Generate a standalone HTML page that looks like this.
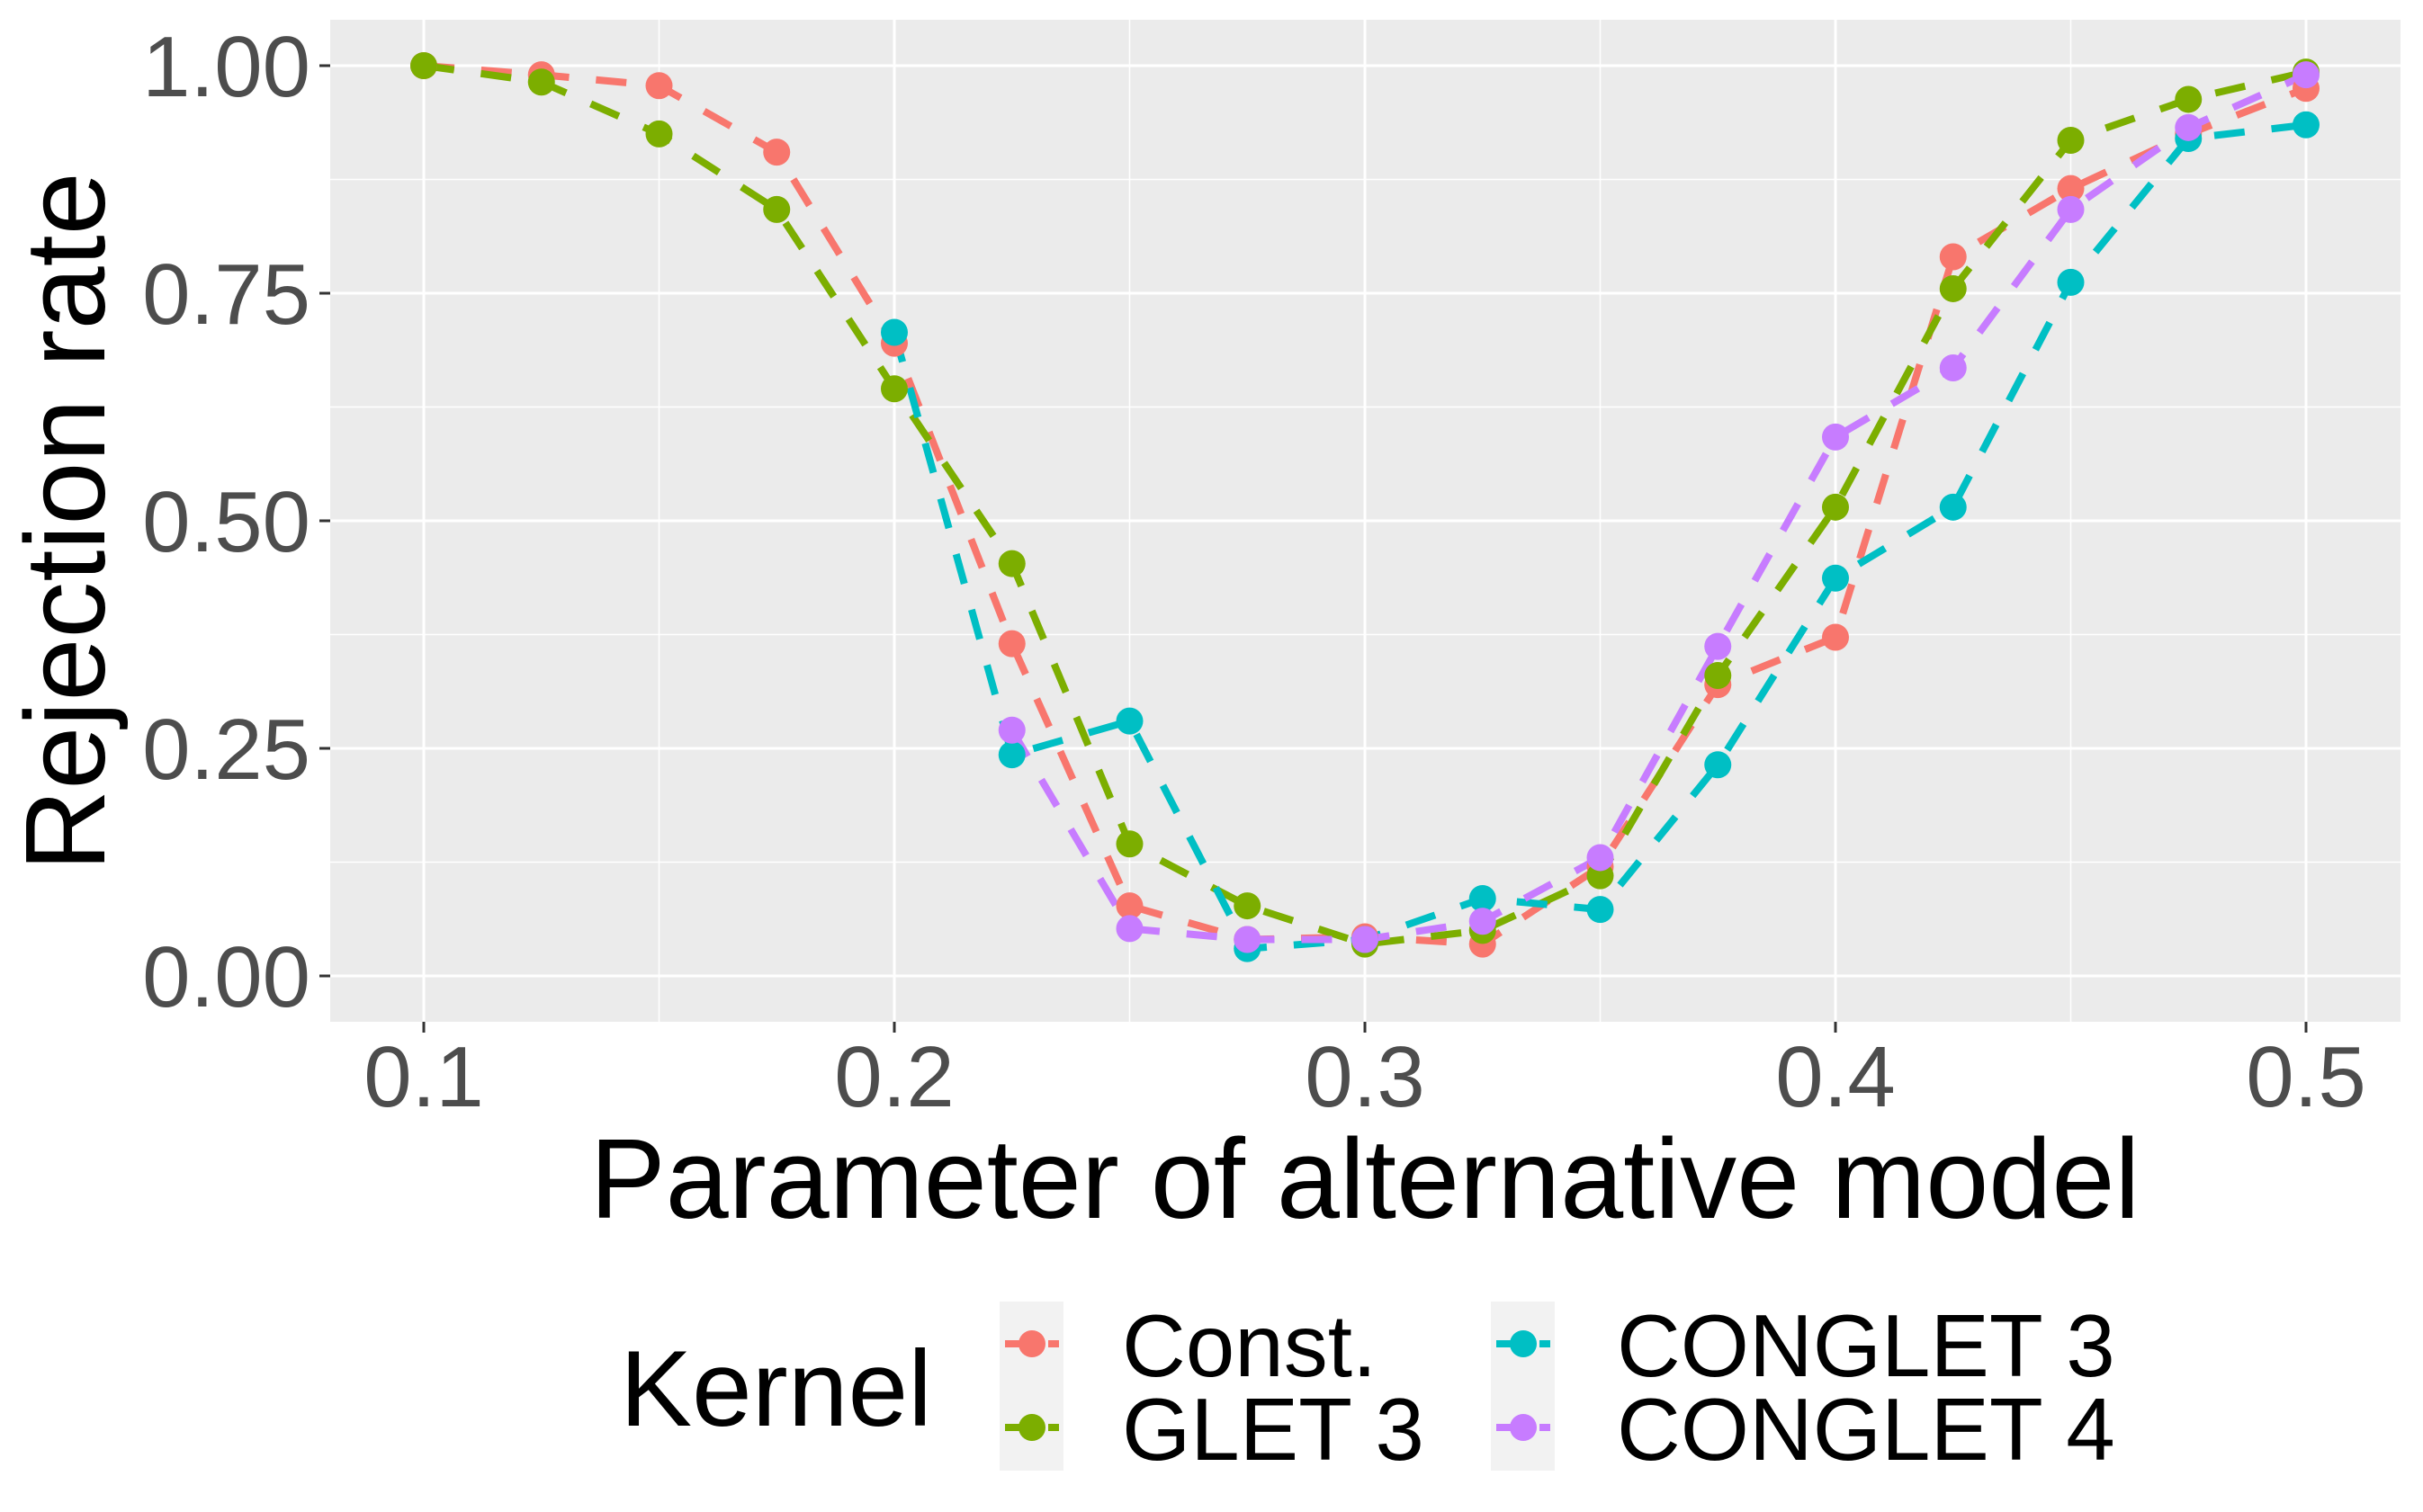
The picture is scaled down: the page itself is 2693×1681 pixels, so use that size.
<!DOCTYPE html>
<html><head><meta charset="utf-8"><style>
html,body{margin:0;padding:0;background:#fff;}
svg{display:block;font-family:"Liberation Sans",Arial,sans-serif;}
</style></head><body>
<svg id="chart" width="2693" height="1681" viewBox="0 0 2693 1681">
<rect x="367" y="22" width="2301" height="1114" fill="#EBEBEB"/>
<g id="grid"></g>
<g id="axes"></g>
<g id="series"></g>
<text x="1517" y="1354" font-size="126" text-anchor="middle" fill="#000">Parameter of alternative model</text>
<text transform="translate(116,580) rotate(-90)" font-size="126" text-anchor="middle" fill="#000">Rejection rate</text>
<g id="legend">
<text x="689" y="1585" font-size="120" fill="#000">Kernel</text>
<rect x="1111" y="1447" width="71" height="188" fill="#F2F2F2"/>
<rect x="1657" y="1447" width="71" height="188" fill="#F2F2F2"/>
</g>
</svg>
<script>
const xs = [0.1,0.125,0.15,0.175,0.2,0.225,0.25,0.275,0.3,0.325,0.35,0.375,0.4,0.425,0.45,0.475,0.5];
const constVals = [1.0,0.99,0.978,0.905,0.695,0.365,0.077,0.04,0.043,0.035,0.12,0.32,0.372,0.79,0.865,0.925,0.975];
const glet3Vals = [1.0,0.982,0.925,0.842,0.645,0.453,0.145,0.077,0.035,0.05,0.11,0.33,0.515,0.755,0.918,0.963,0.993];
const conglet3Vals = [null,null,null,null,0.707,0.243,0.28,0.03,0.04,0.085,0.073,0.232,0.437,0.515,0.762,0.92,0.935];
const conglet4Vals = [null,null,null,null,null,0.27,0.052,0.04,0.04,0.06,0.13,0.362,0.592,0.668,0.842,0.932,0.99];
const seriesNames = ["Const.","GLET 3","CONGLET 3","CONGLET 4"];
const seriesColors = ["#F8766D","#7CAE00","#00BFC4","#C77CFF"];
const xTicks = [0.1,0.2,0.3,0.4,0.5];
const xTickLabels = ["0.1","0.2","0.3","0.4","0.5"];
const yTicks = [0,0.25,0.5,0.75,1];
const yTickLabels = ["0.00","0.25","0.50","0.75","1.00"];

const NS="http://www.w3.org/2000/svg";
const X = v => 471 + (v-0.1)*5230;
const Y = v => 1085 - v*1012;
function mk(tag, attrs, parent){const e=document.createElementNS(NS,tag);for(const k in attrs)e.setAttribute(k,attrs[k]);parent.appendChild(e);return e;}
const grid=document.getElementById('grid'), axes=document.getElementById('axes'), ser=document.getElementById('series');
for(let i=0;i<yTicks.length-1;i++){const v=(yTicks[i]+yTicks[i+1])/2;
 const l=mk('line',{x1:367,x2:2668,y1:Y(v),y2:Y(v),stroke:'#fff','stroke-width':1.5},grid);
 
 }
for(let i=0;i<xTicks.length-1;i++){const v=(xTicks[i]+xTicks[i+1])/2;
 const l=mk('line',{y1:22,y2:1136,x1:X(v),x2:X(v),stroke:'#fff','stroke-width':1.5},grid);
 
 }
yTicks.forEach((v,i)=>{
 const l=mk('line',{x1:367,x2:2668,y1:Y(v),y2:Y(v),stroke:'#fff','stroke-width':3},grid);
 
 
 const t=mk('line',{x1:355,x2:367,y1:Y(v),y2:Y(v),stroke:'#333','stroke-width':3},axes);
 
 
 const tx=mk('text',{x:345,y:Y(v)+34,'font-size':96,'text-anchor':'end',fill:'#4D4D4D'},axes);
 tx.textContent=yTickLabels[i];
 
 
});
xTicks.forEach((v,i)=>{
 const l=mk('line',{y1:22,y2:1136,x1:X(v),x2:X(v),stroke:'#fff','stroke-width':3},grid);
 
 
 const t=mk('line',{y1:1136,y2:1148,x1:X(v),x2:X(v),stroke:'#333','stroke-width':3},axes);
 
 
 const tx=mk('text',{x:X(v),y:1230,'font-size':96,'text-anchor':'middle',fill:'#4D4D4D'},axes);
 tx.textContent=xTickLabels[i];
 
 
});
const allVals=[constVals,glet3Vals,conglet3Vals,conglet4Vals];
allVals.forEach((vals,s)=>{
 const pts=[];vals.forEach((v,i)=>{if(v!==null)pts.push([X(xs[i]),Y(v)]);});
 const p=mk('polyline',{points:pts.map(p=>p.join(',')).join(' '),fill:'none',stroke:seriesColors[s],'stroke-width':8,'stroke-dasharray':'34,30'},ser);
 
 
});
allVals.forEach((vals,s)=>{
 vals.forEach((v,i)=>{if(v===null)return;
  const c=mk('circle',{cx:X(xs[i]),cy:Y(v),r:15,fill:seriesColors[s]},ser);
  
  
 });
});
const leg=document.getElementById('legend');
const lx=[1147,1147,1693,1693], ly=[1494,1587,1494,1587], tx=[1247,1247,1797,1797];
seriesNames.forEach((n,s)=>{
 const l=mk('line',{x1:lx[s]-30,x2:lx[s]+30,y1:ly[s],y2:ly[s],stroke:seriesColors[s],'stroke-width':8,'stroke-dasharray':'16,8'},leg);
 
 
 const c=mk('circle',{cx:lx[s],cy:ly[s],r:15,fill:seriesColors[s]},leg);
 
 
 const t=mk('text',{x:tx[s],y:ly[s]+36,'font-size':98,fill:'#000'},leg);
 t.textContent=n;
 
 
});
</script>
</body></html>
